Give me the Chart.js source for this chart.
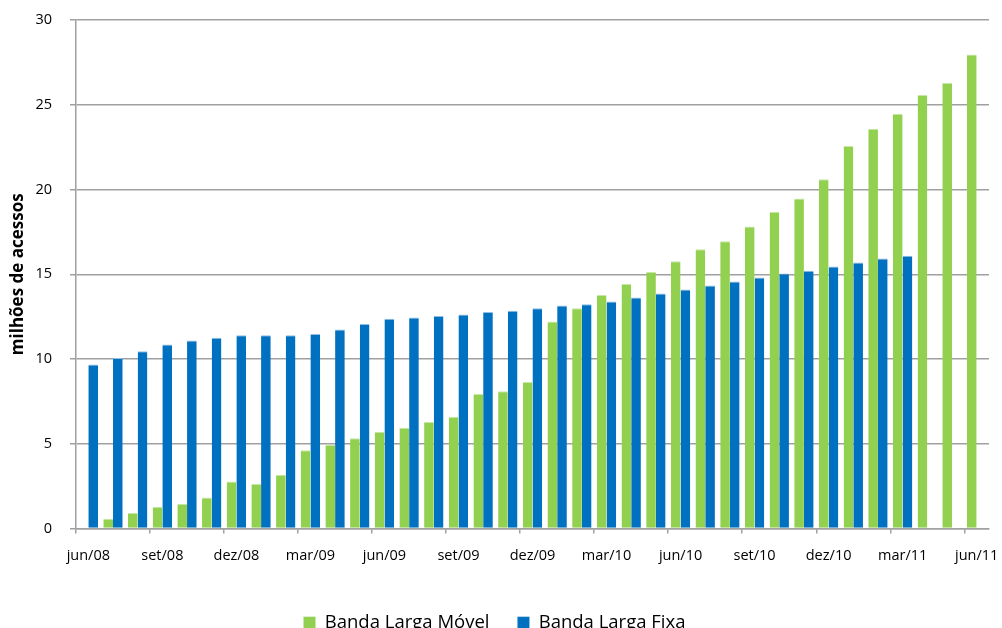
<!DOCTYPE html>
<html lang="pt">
<head>
<meta charset="utf-8">
<title>Acessos de banda larga</title>
<script src="https://cdn.jsdelivr.net/npm/chart.js@4/dist/chart.umd.min.js"></script>
<style>
  html, body { margin: 0; padding: 0; background: #ffffff; overflow: hidden; }
  #wrap { position: absolute; left: 0; top: 0; width: 1002px; height: 642px; }
</style>
</head>
<body>
<div id="wrap"><canvas id="chart" width="1002" height="642"></canvas></div>
<script>
// Meses (jun/08 a jun/11)
const meses = [
  'jun/08','jul/08','ago/08','set/08','out/08','nov/08','dez/08',
  'jan/09','fev/09','mar/09','abr/09','mai/09','jun/09','jul/09','ago/09','set/09','out/09','nov/09','dez/09',
  'jan/10','fev/10','mar/10','abr/10','mai/10','jun/10','jul/10','ago/10','set/10','out/10','nov/10','dez/10',
  'jan/11','fev/11','mar/11','abr/11','mai/11','jun/11'
];

// Acessos em milhões
const bandaLargaMovel = [
  null, 0.57, 0.91, 1.28, 1.46, 1.83, 2.78,
  2.62, 3.17, 4.61, 4.94, 5.32, 5.71, 5.95, 6.28, 6.60, 7.94, 8.09, 8.65,
  12.21, 12.99, 13.78, 14.43, 15.14, 15.77, 16.48, 16.95, 17.82, 18.69, 19.47, 20.60,
  22.56, 23.59, 24.47, 25.58, 26.29, 27.96
];
const bandaLargaFixa = [
  9.67, 10.06, 10.46, 10.85, 11.09, 11.25, 11.40,
  11.40, 11.40, 11.48, 11.74, 12.07, 12.37, 12.45, 12.54, 12.62, 12.78, 12.84, 12.99,
  13.15, 13.23, 13.39, 13.63, 13.86, 14.10, 14.34, 14.57, 14.81, 15.04, 15.20, 15.46,
  15.69, 15.93, 16.09, null, null, null
];

const yTicks = [0, 5, 10, 15, 20, 25, 30];

const FONT = "'Open Sans', 'DejaVu Sans', sans-serif";
const GRID = '#a0a0a0';

new Chart(document.getElementById('chart'), {
  type: 'bar',
  data: {
    labels: meses,
    datasets: [
      {
        label: 'Banda Larga Móvel',
        data: bandaLargaMovel,
        backgroundColor: '#92D050',
        borderColor: '#c6e8a4',
        borderWidth: { top: 1, left: 0, right: 0, bottom: 0 },
        categoryPercentage: 0.785,
        barPercentage: 1.0
      },
      {
        label: 'Banda Larga Fixa',
        data: bandaLargaFixa,
        backgroundColor: '#0070C0',
        borderColor: '#8fbde3',
        borderWidth: { top: 1, left: 0, right: 0, bottom: 0 },
        categoryPercentage: 0.785,
        barPercentage: 1.0
      }
    ]
  },
  options: {
    responsive: false,
    devicePixelRatio: 1,
    animation: false,
    layout: { padding: { left: 0, right: 13, top: 20, bottom: 0 } },
    plugins: {
      tooltip: { enabled: false },
      legend: {
        position: 'bottom',
        labels: {
          font: { family: FONT, size: 18.5 },
          color: '#000000',
          boxWidth: 12,
          boxHeight: 12,
          padding: 28
        }
      }
    },
    scales: {
      x: {
        offset: true,
        grid: {
          offset: true,
          drawOnChartArea: false,
          drawTicks: true,
          tickLength: 5,
          color: (ctx) => (ctx.index % 3 === 0 ? GRID : 'rgba(0,0,0,0)'),
          lineWidth: 1.5
        },
        border: { display: true, color: GRID, width: 1.5 },
        ticks: {
          autoSkip: false,
          maxRotation: 0,
          minRotation: 0,
          padding: 14,
          color: '#000000',
          font: { family: FONT, size: 14.5 },
          callback: function (value, index) {
            return index % 3 === 0 ? meses[index] : '';
          }
        },
        afterFit: (scale) => {
          scale.height = 57;
          scale.paddingLeft = 0;
          scale.paddingRight = 0;
        }
      },
      y: {
        min: 0,
        max: 30,
        afterBuildTicks: (scale) => { scale.ticks = yTicks.map(v => ({ value: v })); },
        grid: {
          color: GRID,
          lineWidth: 1.5,
          drawTicks: true,
          tickLength: 6
        },
        border: { display: true, color: GRID, width: 1.5 },
        ticks: {
          padding: 18,
          color: '#000000',
          font: { family: FONT, size: 14.5 }
        },
        title: {
          display: true,
          text: 'milhões de acessos',
          color: '#000000',
          font: { family: FONT, size: 17, weight: 'bold' },
          padding: { top: 8, bottom: 0 }
        },
        afterFit: (scale) => {
          scale.width = 76;
          scale.paddingTop = 0;
          scale.paddingBottom = 0;
        }
      }
    }
  }
});
</script>
</body>
</html>
